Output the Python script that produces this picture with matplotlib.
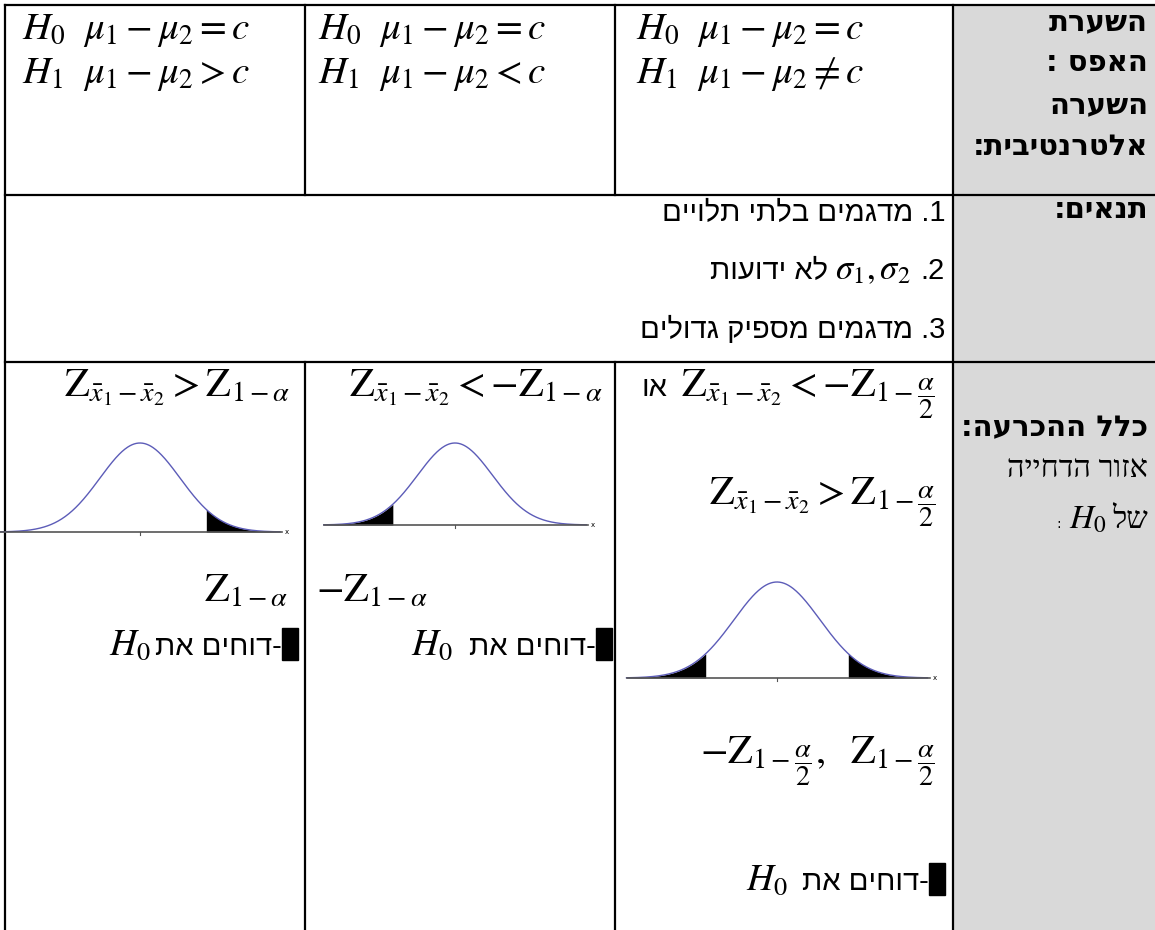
import numpy as np
import matplotlib.pyplot as plt
from matplotlib.patches import Rectangle

plt.rcParams['mathtext.fontset'] = 'stix'

W, H = 1155, 930

# ---------------------------------------------------------------------------
# Table layout (pixels) and texts
# ---------------------------------------------------------------------------
COL_X = [5, 305, 615, 953, 1155]
ROW_Y = [5, 195, 362, 930]
GRAY = '#d9d9d9'

HEAD_ROW1 = ['השערת', 'האפס :', 'השערה', 'אלטרנטיבית:']
HEAD_ROW2 = ['תנאים:']
HEAD_ROW3_BOLD = 'כלל ההכרעה:'
HEAD_ROW3_TEXT = 'אזור הדחייה'
HEAD_ROW3_OF = 'של'

HYP_H0 = [r'$H_0\ \ \mu_1-\mu_2=c$'] * 3
HYP_H1 = [r'$H_1\ \ \mu_1-\mu_2>c$', r'$H_1\ \ \mu_1-\mu_2<c$',
          r'$H_1\ \ \mu_1-\mu_2\neq c$']

COND_1 = '1. מדגמים בלתי תלויים'
COND_2_TXT = 'לא ידועות'
COND_2_NUM = '.2'
COND_2_MATH = r'$\sigma_1,\sigma_2$'
COND_3 = '3. מדגמים מספיק גדולים'

RULE_RIGHT = r'$\mathrm{Z}_{\bar{x}_1-\bar{x}_2}>\mathrm{Z}_{1-\alpha}$'
RULE_LEFT = r'$\mathrm{Z}_{\bar{x}_1-\bar{x}_2}<-\mathrm{Z}_{1-\alpha}$'
RULE_TWO_A = r'$\mathrm{Z}_{\bar{x}_1-\bar{x}_2}<-\mathrm{Z}_{1-\dfrac{\alpha}{2}}$'
RULE_TWO_B = r'$\mathrm{Z}_{\bar{x}_1-\bar{x}_2}>\mathrm{Z}_{1-\dfrac{\alpha}{2}}$'
OR_WORD = 'או'
CRIT_RIGHT = r'$\mathrm{Z}_{1-\alpha}$'
CRIT_LEFT = r'$-\mathrm{Z}_{1-\alpha}$'
CRIT_TWO = r'$-\mathrm{Z}_{1-\dfrac{\alpha}{2}},\ \ \mathrm{Z}_{1-\dfrac{\alpha}{2}}$'
REJECT = 'דוחים את'

# normal curves: z range drawn and critical value of the black tails
Z_LIM = 3.5
Z_CUT = 1.65

HEB_BOLD = dict(family=['DejaVu Sans'], fontweight='bold', fontsize=21)
HEB_SANS = dict(family=['Liberation Sans', 'DejaVu Sans'], fontsize=21)
HEB_SERIF = dict(family=['Liberation Serif', 'DejaVu Serif', 'DejaVu Sans'], fontsize=22)
MATH = dict(fontsize=28)
MATH_Z = dict(fontsize=29)


def rtl(s):
    # matplotlib draws left-to-right: hand it the visual order
    return s[::-1]


fig = plt.figure(figsize=(W / 100, H / 100), dpi=100)
ax = fig.add_axes([0, 0, 1, 1])
ax.set_xlim(0, W)
ax.set_ylim(H, 0)
ax.axis('off')
renderer = fig.canvas.get_renderer()

# header column background
ax.add_patch(Rectangle((COL_X[3], ROW_Y[0]), COL_X[4] - COL_X[3], H - ROW_Y[0],
                       color=GRAY, zorder=0))

# grid
lw = 1.6
for y in ROW_Y[:3]:
    ax.plot([COL_X[0], W], [y, y], color='black', lw=lw)
for x in (COL_X[0], COL_X[3]):
    ax.plot([x, x], [ROW_Y[0], H], color='black', lw=lw)
for x in (COL_X[1], COL_X[2]):
    ax.plot([x, x], [ROW_Y[0], ROW_Y[1]], color='black', lw=lw)
    ax.plot([x, x], [ROW_Y[2], H], color='black', lw=lw)


def put_parts(x_right, y, parts):
    """Place pieces right to left, baseline at y."""
    x = x_right
    for kind, val, kw in parts:
        if kind == 'gap':
            x -= val
        elif kind == 'box':
            w, h = val
            ax.add_patch(Rectangle((x - w, y - h + 5), w, h, color='black'))
            x -= w
        else:
            t = ax.text(x, y, val, ha='right', va='baseline', **kw)
            x -= t.get_window_extent(renderer).width


# header column
HX = 1148
for txt, y in zip(HEAD_ROW1, [30, 71, 113, 155]):
    ax.text(HX, y, rtl(txt), ha='right', va='baseline', **HEB_BOLD)
ax.text(HX, 218, rtl(HEAD_ROW2[0]), ha='right', va='baseline', **HEB_BOLD)
ax.text(HX, 436, rtl(HEAD_ROW3_BOLD), ha='right', va='baseline', **HEB_BOLD)
ax.text(HX, 477, rtl(HEAD_ROW3_TEXT), ha='right', va='baseline', **HEB_SERIF)
put_parts(HX, 528, [('t', rtl(HEAD_ROW3_OF), HEB_SERIF), ('gap', 6, None),
                    ('t', r'$H_0$', dict(fontsize=24)), ('gap', 8, None),
                    ('t', ':', dict(fontsize=10))])

# row 1: hypotheses
for x0, h0, h1 in zip([22, 318, 636], HYP_H0, HYP_H1):
    ax.text(x0, 39, h0, ha='left', va='baseline', **MATH)
    ax.text(x0, 83, h1, ha='left', va='baseline', **MATH)

# row 2: conditions
CX = 945
ax.text(CX, 221, rtl(COND_1), ha='right', va='baseline', **HEB_SANS)
put_parts(CX, 279, [('t', COND_2_NUM, HEB_SANS), ('gap', 10, None),
                    ('t', COND_2_MATH, dict(fontsize=25)), ('gap', 7, None),
                    ('t', rtl(COND_2_TXT), HEB_SANS)])
ax.text(CX, 338, rtl(COND_3), ha='right', va='baseline', **HEB_SANS)

# row 3: decision rules
ax.text(290, 397, RULE_RIGHT, ha='right', va='baseline', **MATH_Z)
ax.text(603, 397, RULE_LEFT, ha='right', va='baseline', **MATH_Z)
put_parts(935, 396, [('t', RULE_TWO_A, MATH_Z), ('gap', 14, None),
                     ('t', rtl(OR_WORD), HEB_SANS)])
ax.text(935, 504, RULE_TWO_B, ha='right', va='baseline', **MATH_Z)

ax.text(288, 602, CRIT_RIGHT, ha='right', va='baseline', **MATH_Z)
ax.text(316, 602, CRIT_LEFT, ha='left', va='baseline', **MATH_Z)
ax.text(935, 763, CRIT_TWO, ha='right', va='baseline', **MATH_Z)

for xr, y, gap in [(298, 655, 4), (612, 655, 16), (945, 890, 14)]:
    put_parts(xr, y, [('box', (16, 32), None), ('t', rtl(REJECT) + '-', HEB_SANS),
                      ('gap', gap, None), ('t', r'$H_0$', dict(fontsize=27))])


# normal curves
def bell(cx, unit, left, right, y_peak, y_axis, tails):
    top, bot = y_peak - 5, y_axis + 10
    a = fig.add_axes([left / W, 1 - bot / H, (right - left) / W, (bot - top) / H])
    a.set_facecolor('white')
    a.axis('off')
    a.patch.set_visible(True)
    peak = 1 / np.sqrt(2 * np.pi)
    k = peak / (y_axis - y_peak)
    a.set_xlim((left - cx) / unit, (right - cx) / unit)
    a.set_ylim(-(bot - y_axis) * k, peak + (y_peak - top) * k)
    z = np.linspace(-Z_LIM, Z_LIM, 400)
    f = np.exp(-z ** 2 / 2) / np.sqrt(2 * np.pi)
    for side in tails:
        m = z >= Z_CUT if side > 0 else z <= -Z_CUT
        a.fill_between(z[m], 0, f[m], color='black', lw=0)
    a.plot(z, f, color='#5c5cb8', lw=1.0)
    a.plot([-Z_LIM, Z_LIM + 0.05], [0, 0], color='#555555', lw=1.2)
    a.plot([0, 0], [0, -3 * k], color='#555555', lw=0.8)
    a.text(Z_LIM + 0.18, 0, 'x', fontsize=5, ha='center', va='center')


bell(140, 40, 0, 292, 443, 532, [1])
bell(455, 37.5, 318, 600, 443, 525, [-1])
bell(777, 43, 622, 946, 582, 678, [-1, 1])

fig.savefig('out.png', dpi=100)
